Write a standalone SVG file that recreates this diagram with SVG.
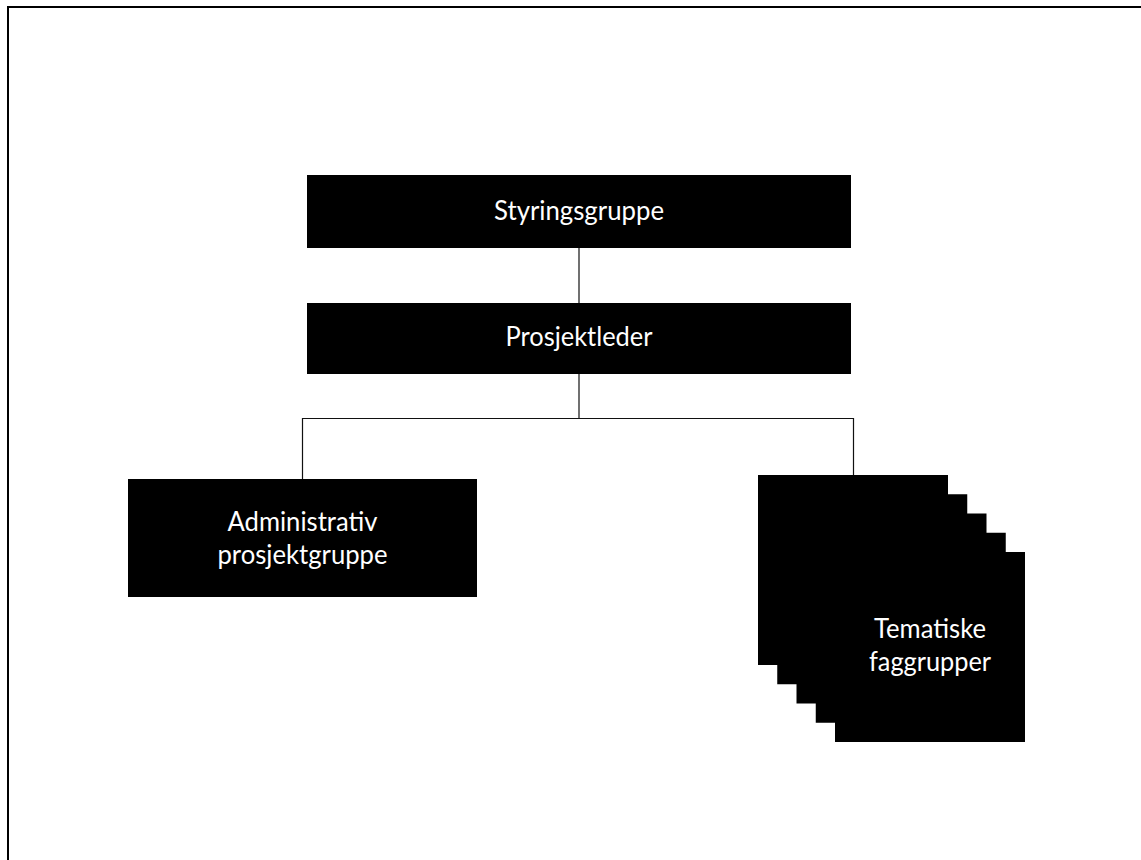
<svg xmlns="http://www.w3.org/2000/svg" width="1141" height="860" viewBox="0 0 1141 860">
<style>
.box{fill:#000;}
.lbl{fill:#fff;font-family:Lato,"Liberation Sans",sans-serif;font-size:27px;text-anchor:middle;}
.conn{stroke:#111;stroke-width:1.2;fill:none;}
</style>
<rect width="1141" height="860" fill="#fff"/>
<path d="M8,860 V7 H1141" stroke="#000" stroke-width="2" fill="none"/>
<g id="connectors">
<path class="conn" d="M579,248 V303"/>
<path class="conn" d="M579,374 V418.5"/>
<path class="conn" d="M302.5,479 V418.5 H853.5 V475"/>
</g>
<g id="styringsgruppe">
<rect class="box" x="307" y="175" width="544" height="73"/>
<text class="lbl" x="579" y="220" textLength="170" lengthAdjust="spacingAndGlyphs">Styringsgruppe</text>
</g>
<g id="prosjektleder">
<rect class="box" x="307" y="303" width="544" height="71"/>
<text class="lbl" x="579" y="346" textLength="147" lengthAdjust="spacingAndGlyphs">Prosjektleder</text>
</g>
<g id="administrativ">
<rect class="box" x="128" y="479" width="349" height="118"/>
<text class="lbl" x="302.5" y="531" textLength="150" lengthAdjust="spacingAndGlyphs">Administrativ</text>
<text class="lbl" x="302.5" y="564" textLength="170" lengthAdjust="spacingAndGlyphs">prosjektgruppe</text>
</g>
<g id="tematiske">
<rect class="box" x="758" y="475" width="190" height="190"/>
<rect class="box" x="777.25" y="494.25" width="190" height="190"/>
<rect class="box" x="796.5" y="513.5" width="190" height="190"/>
<rect class="box" x="815.75" y="532.75" width="190" height="190"/>
<rect class="box" x="835" y="552" width="190" height="190"/>
<text class="lbl" x="930" y="638" textLength="112" lengthAdjust="spacingAndGlyphs">Tematiske</text>
<text class="lbl" x="930" y="671" textLength="122" lengthAdjust="spacingAndGlyphs">faggrupper</text>
</g>
</svg>
